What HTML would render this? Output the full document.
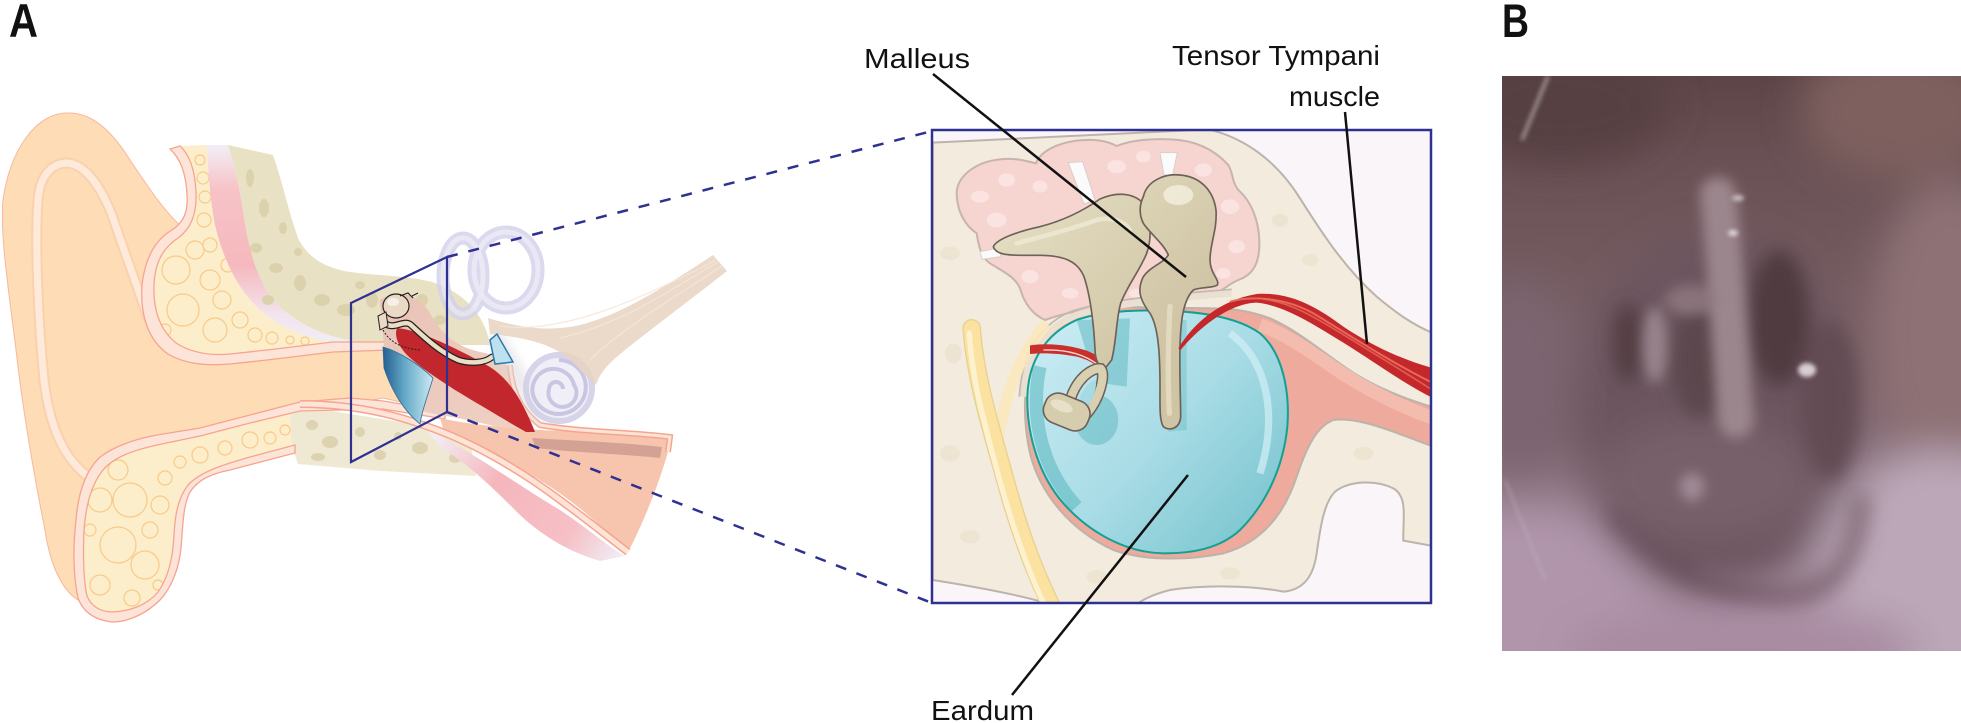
<!DOCTYPE html>
<html><head><meta charset="utf-8">
<style>
html,body{margin:0;padding:0;background:#fff;}
svg{display:block;}
text{font-family:"Liberation Sans",sans-serif;fill:#111;}
</style></head><body>
<svg width="1961" height="723" viewBox="0 0 1961 723" xmlns="http://www.w3.org/2000/svg">
<defs>
  <linearGradient id="skinG" gradientUnits="userSpaceOnUse" x1="0" y1="145" x2="0" y2="345">
    <stop offset="0" stop-color="#f2eef6"/><stop offset="0.22" stop-color="#f6c3c7"/>
    <stop offset="0.6" stop-color="#f5b9bd"/><stop offset="0.85" stop-color="#f3e4ee"/><stop offset="1" stop-color="#f0eef6"/>
  </linearGradient>
  <linearGradient id="fadeG" gradientUnits="userSpaceOnUse" x1="430" y1="440" x2="620" y2="560">
    <stop offset="0" stop-color="#f3eef5"/><stop offset="0.35" stop-color="#f5b6bc"/>
    <stop offset="0.75" stop-color="#f6c0c6"/><stop offset="1" stop-color="#f1edf6"/>
  </linearGradient>
  <linearGradient id="blueG" gradientUnits="userSpaceOnUse" x1="383" y1="0" x2="433" y2="0">
    <stop offset="0" stop-color="#235f90"/><stop offset="0.45" stop-color="#67abc9"/><stop offset="1" stop-color="#cbeaf2"/>
  </linearGradient>
  <linearGradient id="meG" gradientUnits="userSpaceOnUse" x1="380" y1="300" x2="530" y2="430">
    <stop offset="0" stop-color="#e9c2b6"/><stop offset="1" stop-color="#f0d2c4"/>
  </linearGradient>
  <linearGradient id="drumG" gradientUnits="userSpaceOnUse" x1="350" y1="620" x2="1050" y2="1250">
    <stop offset="0" stop-color="#c8ebf3"/><stop offset="0.5" stop-color="#a9dce6"/><stop offset="1" stop-color="#76c3cd"/>
  </linearGradient>
  <linearGradient id="boneG" gradientUnits="userSpaceOnUse" x1="200" y1="250" x2="700" y2="700">
    <stop offset="0" stop-color="#e6dfc4"/><stop offset="1" stop-color="#cfc4a4"/>
  </linearGradient>
  <linearGradient id="photoBase" gradientUnits="userSpaceOnUse" x1="0" y1="76" x2="0" y2="651">
    <stop offset="0" stop-color="#5d4547"/><stop offset="0.15" stop-color="#6a5155"/>
    <stop offset="0.5" stop-color="#7a6268"/><stop offset="0.8" stop-color="#9a8191"/><stop offset="1" stop-color="#b59db1"/>
  </linearGradient>
  <clipPath id="boxClip"><rect x="932" y="130" width="499" height="473"/></clipPath>
  <clipPath id="photoClip"><rect x="1502" y="76" width="459" height="575"/></clipPath>
  <filter id="pb20" filterUnits="userSpaceOnUse" x="1300" y="-100" width="800" height="900"><feGaussianBlur stdDeviation="20"/></filter>
  <filter id="pb11" filterUnits="userSpaceOnUse" x="1300" y="-100" width="800" height="900"><feGaussianBlur stdDeviation="11"/></filter>
  <filter id="pb9" filterUnits="userSpaceOnUse" x="1300" y="-100" width="800" height="900"><feGaussianBlur stdDeviation="9"/></filter>
  <filter id="pb6" filterUnits="userSpaceOnUse" x="1300" y="-100" width="800" height="900"><feGaussianBlur stdDeviation="6"/></filter>
  <filter id="pb2" filterUnits="userSpaceOnUse" x="1300" y="-100" width="800" height="900"><feGaussianBlur stdDeviation="2"/></filter>
  <filter id="eb4" filterUnits="userSpaceOnUse" x="300" y="150" width="400" height="400"><feGaussianBlur stdDeviation="5"/></filter>
</defs>

<!-- ================= EAR (A) ================= -->
<path d="M 67,113 C 90,112 110,128 130,160 C 150,190 165,212 182,227 L 150,300 L 383,338 L 445,345 L 445,412 L 383,398 L 110,450 L 78,600 C 62,590 50,565 45,530 C 35,480 24,420 16,350 C 8,285 0,235 3,200 C 10,150 36,113 67,113 Z" fill="#fddcb6" stroke="#f7b89c" stroke-width="1"/>
<path d="M 90,478 C 65,460 50,430 44,380 C 38,320 35,240 38,200 C 40,175 52,163 68,163 C 85,165 100,185 112,215 C 122,245 135,280 148,318" fill="none" stroke="#f8c9aa" stroke-width="11" stroke-linecap="round" opacity="0.6"/>
<path d="M 90,478 C 65,460 50,430 44,380 C 38,320 35,240 38,200 C 40,175 52,163 68,163 C 85,165 100,185 112,215 C 122,245 135,280 148,318" fill="none" stroke="#feeadb" stroke-width="7" stroke-linecap="round"/>

<path d="M 180,146 C 190,155 195,170 196,192 C 197,212 192,228 178,238 C 163,248 155,262 154,285 C 153,310 160,330 176,343 C 190,352 208,356 230,354 L 267,350 L 330,342 C 300,337 270,322 255,305 C 235,285 222,255 215,225 C 210,200 208,170 207,145 Z" fill="#fdeecb"/>
<g fill="none" stroke="#f9c987" stroke-width="1.2">
  <circle cx="200" cy="160" r="5"/><circle cx="203" cy="178" r="6"/><circle cx="205" cy="197" r="6"/>
  <circle cx="204" cy="220" r="7"/><circle cx="176" cy="270" r="14"/><circle cx="195" cy="250" r="9"/>
  <circle cx="210" cy="245" r="7"/><circle cx="183" cy="310" r="16"/><circle cx="210" cy="280" r="10"/>
  <circle cx="222" cy="300" r="9"/><circle cx="215" cy="330" r="12"/><circle cx="240" cy="320" r="8"/>
  <circle cx="255" cy="335" r="7"/><circle cx="272" cy="338" r="6"/><circle cx="165" cy="330" r="6"/>
  <circle cx="228" cy="265" r="7"/><circle cx="290" cy="340" r="4"/><circle cx="305" cy="341" r="4"/>
</g>
<path d="M 207,145 C 208,170 210,200 215,225 C 222,255 235,285 255,305 C 270,322 300,337 330,342 L 360,342 C 320,336 290,320 272,298 C 255,275 248,245 243,210 C 238,180 233,160 228,145 Z" fill="url(#skinG)"/>
<path d="M 228,145 L 273,155 C 282,180 288,210 298,238 C 308,258 325,268 350,272 C 380,276 420,276 440,285 C 465,295 485,315 490,345 L 445,345 L 390,342 L 360,342 C 320,336 290,320 272,298 C 255,275 248,245 243,210 C 238,180 233,160 228,145 Z" fill="#e9e1c3"/>
<g fill="#dbd2ad">
  <ellipse cx="250" cy="178" rx="4" ry="9"/><ellipse cx="264" cy="208" rx="5" ry="9"/><ellipse cx="256" cy="248" rx="6" ry="5"/>
  <ellipse cx="276" cy="268" rx="7" ry="5"/><ellipse cx="300" cy="283" rx="6" ry="8"/><ellipse cx="322" cy="300" rx="8" ry="6"/>
  <ellipse cx="346" cy="310" rx="9" ry="6"/><ellipse cx="298" cy="252" rx="4" ry="4"/><ellipse cx="372" cy="300" rx="6" ry="8"/>
  <ellipse cx="396" cy="312" rx="7" ry="5"/><ellipse cx="422" cy="300" rx="6" ry="6"/><ellipse cx="283" cy="228" rx="4" ry="6"/>
  <ellipse cx="268" cy="300" rx="6" ry="5"/><ellipse cx="360" cy="285" rx="5" ry="4"/><ellipse cx="440" cy="320" rx="6" ry="5"/>
</g>
<path d="M 170,149 C 180,158 186,172 187,195 C 188,212 184,222 172,230 C 155,240 145,258 142,285 C 140,315 148,340 168,354 C 185,364 205,366 230,364 L 267,360 L 333,352 L 390,350 L 390,342 L 333,342 L 267,350 L 230,354 C 208,356 190,352 176,343 C 160,330 153,310 154,285 C 155,262 163,248 178,238 C 192,228 197,212 196,192 C 195,170 190,155 180,146 Z" fill="#fde4d8" stroke="#f6a48f" stroke-width="1.3"/>

<path d="M 300,411 L 250,423 L 200,436 L 157,445 C 135,450 115,456 103,470 C 91,485 86,505 84,530 C 83,555 83,578 87,596 C 91,606 100,612 113,612 C 132,611 148,604 158,592 C 168,578 173,558 174,535 C 175,515 178,498 188,485 C 200,472 222,465 250,457 L 300,444 Z" fill="#fdeecb"/>
<g fill="none" stroke="#f9c987" stroke-width="1.2">
  <circle cx="118" cy="470" r="10"/><circle cx="100" cy="500" r="12"/><circle cx="130" cy="500" r="17"/>
  <circle cx="118" cy="545" r="18"/><circle cx="150" cy="530" r="8"/><circle cx="160" cy="505" r="9"/>
  <circle cx="145" cy="565" r="14"/><circle cx="100" cy="585" r="10"/><circle cx="132" cy="598" r="8"/>
  <circle cx="165" cy="478" r="7"/><circle cx="200" cy="455" r="8"/><circle cx="225" cy="448" r="7"/>
  <circle cx="250" cy="440" r="8"/><circle cx="180" cy="462" r="6"/><circle cx="270" cy="438" r="6"/>
  <circle cx="285" cy="430" r="5"/><circle cx="90" cy="530" r="6"/><circle cx="158" cy="585" r="5"/>
</g>
<path d="M 293,405 L 420,425 L 470,440 L 476,476 L 380,471 L 298,464 C 289,440 289,420 293,405 Z" fill="#efe9d3"/>
<g fill="#ddd3b1">
  <ellipse cx="312" cy="425" rx="6" ry="5"/><ellipse cx="330" cy="442" rx="8" ry="6"/><ellipse cx="360" cy="432" rx="5" ry="5"/>
  <ellipse cx="318" cy="457" rx="7" ry="4"/><ellipse cx="380" cy="455" rx="6" ry="5"/><ellipse cx="420" cy="448" rx="8" ry="6"/>
  <ellipse cx="455" cy="458" rx="6" ry="5"/><ellipse cx="398" cy="436" rx="4" ry="4"/>
</g>
<path d="M 445,411 L 383,401 L 350,398 L 300,402 L 250,415 L 200,428 L 157,435 C 135,439 112,447 99,458 C 85,472 78,495 76,520 C 73,545 73,575 78,598 C 83,612 95,620 112,622 C 130,622 148,612 160,600 C 172,587 179,568 181,548 C 183,525 183,505 190,492 C 198,480 210,474 230,470 L 295,453 L 295,445 L 250,457 C 222,465 200,472 188,485 C 178,498 175,515 174,535 C 173,558 168,578 158,592 C 148,604 132,611 113,612 C 100,612 91,606 87,596 C 83,578 83,555 84,530 C 86,505 91,485 103,470 C 115,456 135,450 157,445 L 200,436 L 250,423 L 300,411 L 383,409 L 445,419 Z" fill="#fde4d8" stroke="#f6a48f" stroke-width="1.3"/>

<!-- middle ear -->
<path d="M 380,300 C 395,290 415,292 428,310 C 440,330 450,345 480,352 C 500,356 508,362 510,375 C 512,395 520,412 535,430 L 520,432 C 490,425 460,418 440,415 C 420,412 405,405 398,390 L 385,360 Z" fill="url(#meG)"/>
<path d="M 427,430 C 470,450 510,480 560,510 C 590,530 610,548 625,556 L 600,561 C 570,552 545,538 520,515 C 495,490 470,465 440,447 Z" fill="url(#fadeG)"/>
<path d="M 440,418 C 470,425 510,428 540,430 C 580,432 630,432 670,436 L 668,452 C 660,480 645,520 628,552 C 610,535 590,515 565,497 C 530,472 490,450 445,435 Z" fill="#f7c4ad"/>
<path d="M 532,438 C 580,441 630,443 662,447 L 660,458 C 620,454 570,452 536,448 Z" fill="#c99a8f" opacity="0.8"/>
<path d="M 300,404 C 340,404 380,410 420,424 C 470,440 520,470 560,500 C 590,522 612,540 628,552" fill="none" stroke="#f6a48f" stroke-width="8"/>
<path d="M 300,404 C 340,404 380,410 420,424 C 470,440 520,470 560,500 C 590,522 612,540 628,552" fill="none" stroke="#fde4d6" stroke-width="5"/>
<path d="M 510,365 C 512,390 520,410 540,425 C 580,432 630,432 670,437 L 668,452" fill="none" stroke="#f6a48f" stroke-width="6"/>
<path d="M 510,365 C 512,390 520,410 540,425 C 580,432 630,432 670,437 L 668,452" fill="none" stroke="#fde4d6" stroke-width="3"/>

<path d="M 495,335 C 510,360 525,390 540,420" fill="none" stroke="#dcdcdf" stroke-width="16" opacity="0.6" filter="url(#eb4)"/>
<g fill="none" opacity="0.85">
  <ellipse cx="463" cy="276" rx="20" ry="38" stroke="#d5d3ea" stroke-width="13"/>
  <ellipse cx="506" cy="270" rx="32" ry="38" stroke="#d5d3ea" stroke-width="13"/>
  <ellipse cx="463" cy="276" rx="20" ry="38" stroke="#e6e5f3" stroke-width="5"/>
  <ellipse cx="506" cy="270" rx="32" ry="38" stroke="#e6e5f3" stroke-width="5"/>
</g>
<circle cx="559" cy="388" r="33" fill="#efeef7" stroke="#d3d0e8" stroke-width="6" opacity="0.9"/>
<path d="M 559,360 A 27,27 0 1 1 533,395 A 21,21 0 1 1 574,385 A 14,14 0 1 1 549,389 A 7,7 0 1 1 563,389" fill="none" stroke="#c9c6e2" stroke-width="4"/>
<path d="M 488,318 C 520,328 550,332 580,325 C 620,315 660,290 713,255 L 727,271 C 690,300 650,330 625,350 C 610,362 600,372 596,385 L 580,370 C 560,345 530,338 490,334 Z" fill="#e8d2c0" opacity="0.85"/>
<g stroke="#f4e7dc" stroke-width="1.2" fill="none" opacity="0.9">
  <path d="M 500,326 C 560,335 640,300 716,260"/><path d="M 590,360 C 620,330 670,300 722,266"/><path d="M 560,338 C 620,325 670,290 718,262"/>
</g>

<path d="M 397,328 C 420,330 460,350 490,367 C 510,380 522,400 535,432 L 526,432 C 505,420 480,405 455,390 C 435,377 420,367 408,356 C 398,346 394,336 397,328 Z" fill="#c1272d"/>
<path d="M 383,347 C 400,352 420,365 433,378 C 428,395 422,410 420,424 C 405,412 392,392 384,368 Z" fill="url(#blueG)" stroke="#2c6c98" stroke-width="0.8"/>
<path d="M 383,330 C 390,342 400,348 420,350" fill="none" stroke="#222" stroke-width="1" stroke-dasharray="2 1.5"/>
<ellipse cx="396" cy="306" rx="13" ry="12" fill="#ead9c5" stroke="#222" stroke-width="1.2"/>
<ellipse cx="393" cy="302" rx="6" ry="4" fill="#f7f0e6"/>
<path d="M 386,324 C 395,330 405,318 412,326 C 425,338 440,352 458,360 C 470,364 485,363 492,357" fill="none" stroke="#222" stroke-width="7" stroke-linecap="round"/>
<path d="M 386,324 C 395,330 405,318 412,326 C 425,338 440,352 458,360 C 470,364 485,363 492,357" fill="none" stroke="#eadfc4" stroke-width="4.5" stroke-linecap="round"/>
<path d="M 378,316 L 386,312 L 388,326 L 380,330 Z" fill="#ead9c5" stroke="#222" stroke-width="1"/>
<path d="M 400,296 L 408,293 L 413,298 M 412,296 L 418,293" fill="none" stroke="#222" stroke-width="1.2"/>
<path d="M 490,340 L 497,334 L 513,362 L 495,364 Z" fill="#bfe0ef" stroke="#2a7ab0" stroke-width="1.5"/>

<polygon points="351,303 447,257 447,412 351,462" fill="none" stroke="#2e3192" stroke-width="2.2"/>
<line x1="447" y1="257" x2="932" y2="131" stroke="#2e3192" stroke-width="2.5" stroke-dasharray="11 11"/>
<line x1="447" y1="412" x2="932" y2="603" stroke="#2e3192" stroke-width="2.5" stroke-dasharray="11 11"/>

<!-- ================= ZOOM BOX ================= -->
<rect x="932" y="130" width="499" height="473" fill="#faf5f9"/>
<g clip-path="url(#boxClip)">
<g transform="translate(930,120) scale(0.333333)">
  <path d="M 8,68 L 835,28 C 950,55 1045,130 1110,235 C 1170,330 1240,440 1340,530 C 1400,580 1450,615 1510,640 L 1510,1278 L 1420,1262 C 1418,1200 1435,1130 1390,1105 C 1340,1080 1260,1080 1215,1115 C 1180,1150 1170,1230 1160,1300 C 1150,1370 1120,1410 1060,1415 C 960,1395 820,1395 720,1410 C 680,1420 640,1435 610,1460 L 380,1460 C 330,1440 200,1410 8,1380 Z" fill="#f3ebdd" stroke="#bcb3ab" stroke-width="6"/>
  <g fill="#ece2d0" opacity="0.8">
    <ellipse cx="60" cy="400" rx="30" ry="20"/><ellipse cx="70" cy="700" rx="25" ry="30"/><ellipse cx="60" cy="1000" rx="30" ry="25"/>
    <ellipse cx="120" cy="1250" rx="30" ry="20"/><ellipse cx="500" cy="1370" rx="30" ry="20"/><ellipse cx="900" cy="1360" rx="30" ry="18"/>
    <ellipse cx="1300" cy="1000" rx="30" ry="20"/><ellipse cx="1050" cy="300" rx="25" ry="20"/><ellipse cx="1140" cy="420" rx="25" ry="18"/>
  </g>
  <path d="M 1510,862 C 1420,835 1330,800 1250,745 C 1170,690 1100,630 1020,595 C 960,572 900,565 850,565 L 520,560 C 420,575 340,630 305,720 C 280,800 278,900 300,1000 C 330,1120 420,1230 550,1290 C 650,1325 780,1320 880,1300 C 990,1270 1060,1190 1100,1070 C 1130,980 1160,920 1210,900 C 1280,890 1380,930 1510,980 Z" fill="#eeaa9d" stroke="#bcb3ab" stroke-width="6"/>
  <path d="M 1510,895 C 1400,855 1300,805 1200,735 C 1120,680 1060,640 990,615" fill="none" stroke="#f4c0b3" stroke-width="40" opacity="0.85"/>
  <path d="M 80,215 C 85,165 140,125 210,118 C 260,112 295,125 318,130 C 330,95 380,70 440,62 C 490,56 530,62 560,78 C 600,62 660,55 720,58 C 790,60 850,85 895,135 C 910,160 905,185 925,210 C 965,245 985,300 988,360 C 990,420 975,460 930,478 C 895,490 880,515 840,528 C 760,540 650,545 560,555 C 470,565 400,580 345,600 C 300,580 280,540 270,505 C 255,470 220,455 180,430 C 150,410 145,370 140,340 C 110,320 80,280 80,215 Z" fill="#f6d4d0" stroke="#c8b3ae" stroke-width="6"/>
  <g fill="#fae3e0">
    <ellipse cx="150" cy="230" rx="28" ry="18"/><ellipse cx="230" cy="180" rx="25" ry="20"/><ellipse cx="200" cy="300" rx="30" ry="22"/>
    <ellipse cx="330" cy="200" rx="22" ry="18"/><ellipse cx="560" cy="140" rx="28" ry="20"/><ellipse cx="640" cy="110" rx="22" ry="18"/>
    <ellipse cx="820" cy="150" rx="26" ry="20"/><ellipse cx="900" cy="260" rx="28" ry="22"/><ellipse cx="920" cy="380" rx="25" ry="20"/>
    <ellipse cx="880" cy="460" rx="22" ry="16"/><ellipse cx="300" cy="470" rx="26" ry="20"/><ellipse cx="420" cy="520" rx="25" ry="16"/>
    <ellipse cx="240" cy="390" rx="22" ry="16"/><ellipse cx="620" cy="520" rx="24" ry="14"/>
  </g>
  <path d="M 280,830 C 288,700 350,620 440,585 C 560,548 750,532 905,520" fill="none" stroke="#e9e0d2" stroke-width="20"/>
  <path d="M 268,830 C 276,690 340,605 430,572 C 550,535 750,520 905,508" fill="none" stroke="#c2b9b1" stroke-width="5"/>
  <path d="M 205,960 C 225,820 270,700 350,610" fill="none" stroke="#fbe8bd" stroke-width="34" opacity="0.9"/>
  <path d="M 125,625 C 135,760 175,900 215,1040 C 255,1190 300,1330 370,1470" fill="none" stroke="#e8d08f" stroke-width="56" stroke-linecap="round"/>
  <path d="M 125,625 C 135,760 175,900 215,1040 C 255,1190 300,1330 370,1470" fill="none" stroke="#fbe2a0" stroke-width="48" stroke-linecap="round"/>
  <path d="M 118,640 C 125,770 160,900 198,1040 C 235,1180 280,1320 345,1460" fill="none" stroke="#fdf1d0" stroke-width="16" stroke-linecap="round"/>
  <path d="M 292,830 C 295,720 350,640 440,600 C 520,572 620,570 700,572 C 810,575 920,590 990,640 C 1060,700 1080,820 1072,920 C 1060,1040 1010,1150 930,1230 C 870,1285 790,1300 700,1300 C 590,1298 480,1240 400,1150 C 330,1070 290,950 292,830 Z" fill="url(#drumG)" stroke="#12a095" stroke-width="6"/>
  <path d="M 330,740 C 300,880 330,1040 440,1160" fill="none" stroke="#57b6be" stroke-width="40" opacity="0.55"/>
  <path d="M 900,640 C 1010,720 1045,880 990,1060" fill="none" stroke="#cdeef4" stroke-width="22" opacity="0.75"/>
  <path d="M 440,600 L 600,595 L 590,800 L 520,790 L 470,700 Z" fill="#5cb5bd" opacity="0.5"/>
  <ellipse cx="500" cy="900" rx="65" ry="75" fill="#5cb5bd" opacity="0.5"/>
  <path d="M 700,600 L 770,600 L 770,930 L 715,935 Z" fill="#5cb5bd" opacity="0.35"/>
  <path d="M 415,128 L 458,125 L 495,240 L 462,252 Z" fill="#fbfbfb" stroke="#d8d0cc" stroke-width="3"/>
  <path d="M 690,98 L 742,98 L 728,165 L 702,165 Z" fill="#fbfbfb" stroke="#d8d0cc" stroke-width="3"/>
  <path d="M 150,395 L 210,383 L 212,410 L 156,418 Z" fill="#fbfbfb" stroke="#d8d0cc" stroke-width="3"/>
  <path d="M 300,676 C 360,668 420,676 470,692 C 495,702 510,712 518,722 L 508,745 C 495,730 470,718 440,710 C 390,700 340,698 300,702 Z" fill="#c9302c"/>
  <path d="M 340,690 C 400,688 460,700 505,735" fill="none" stroke="#f7d8d4" stroke-width="4"/>
  <path d="M 190,380 C 200,358 260,335 330,320 C 400,302 460,272 510,237 C 560,215 610,218 640,250 C 665,290 665,360 650,400 C 630,450 590,500 572,550 C 558,600 560,660 545,720 L 525,745 C 505,742 496,718 495,690 C 492,620 482,530 462,470 C 442,422 400,407 330,406 C 260,405 200,412 190,380 Z" fill="url(#boneG)" stroke="#6d6258" stroke-width="5"/>
  <path d="M 260,370 C 330,350 420,330 500,300 C 540,290 580,300 600,330" fill="none" stroke="#f1ecd9" stroke-width="14" opacity="0.7" stroke-linecap="round"/>
  <path d="M 640,230 C 650,185 700,160 750,165 C 810,170 850,210 858,270 C 862,330 840,370 840,420 C 840,460 870,480 862,495 C 850,505 810,500 790,510 C 760,540 752,600 750,680 C 748,760 752,840 752,890 C 750,925 720,935 700,920 C 688,900 690,860 690,800 C 690,700 685,620 660,580 C 630,540 620,510 640,470 C 660,440 700,430 715,405 C 700,370 660,340 640,310 C 625,280 630,250 640,230 Z" fill="url(#boneG)" stroke="#6d6258" stroke-width="5"/>
  <ellipse cx="745" cy="225" rx="45" ry="30" fill="#f2eddc" opacity="0.85"/>
  <path d="M 720,560 C 715,650 712,760 718,880" fill="none" stroke="#e9e2cb" stroke-width="16" opacity="0.7" stroke-linecap="round"/>
  <path d="M 420,842 C 440,772 490,742 512,746 C 527,762 512,832 470,882" fill="none" stroke="#6d6258" stroke-width="34" stroke-linecap="round"/>
  <path d="M 420,842 C 440,772 490,742 512,746 C 527,762 512,832 470,882" fill="none" stroke="#d9cfb1" stroke-width="25" stroke-linecap="round"/>
  <path d="M 448,835 C 462,800 485,780 498,780 C 500,810 488,840 470,860 Z" fill="#a6dbe5"/>
  <rect x="340" y="830" width="140" height="92" rx="40" ry="40" transform="rotate(22 410 876)" fill="#d6ccae" stroke="#6d6258" stroke-width="5"/>
  <ellipse cx="395" cy="858" rx="35" ry="16" transform="rotate(22 395 858)" fill="#ece5cf" opacity="0.8"/>
  <path d="M 745,685 C 790,610 870,540 980,522 C 1080,515 1160,560 1240,620 C 1330,680 1420,720 1510,745 L 1510,835 C 1420,790 1340,730 1240,668 C 1150,612 1060,555 980,548 C 900,550 810,620 752,690 Z" fill="#c4282b"/>
  <path d="M 900,545 C 960,528 1060,530 1150,580 C 1250,640 1370,720 1510,790" fill="none" stroke="#e8685a" stroke-width="6"/>
  <path d="M 1000,538 C 1080,545 1160,595 1250,650 C 1350,712 1430,760 1510,812" fill="none" stroke="#e8685a" stroke-width="5" opacity="0.8"/>
</g>
</g>
<rect x="932" y="130" width="499" height="473" fill="none" stroke="#2e3192" stroke-width="2.5"/>

<g stroke="#111" stroke-width="2.5">
  <line x1="933" y1="74" x2="1186" y2="277"/>
  <line x1="1345" y1="112" x2="1367" y2="344"/>
  <line x1="1188" y1="475" x2="1012" y2="695"/>
</g>

<text x="9" y="37" font-size="47" font-weight="bold" textLength="29" lengthAdjust="spacingAndGlyphs">A</text>
<text x="1502" y="37" font-size="47" font-weight="bold" textLength="27" lengthAdjust="spacingAndGlyphs">B</text>
<text x="864" y="68" font-size="28" textLength="106" lengthAdjust="spacingAndGlyphs">Malleus</text>
<text x="1172" y="65" font-size="28" textLength="208" lengthAdjust="spacingAndGlyphs">Tensor Tympani</text>
<text x="1289" y="106" font-size="28" textLength="91" lengthAdjust="spacingAndGlyphs">muscle</text>
<text x="931" y="720" font-size="28" textLength="103" lengthAdjust="spacingAndGlyphs">Eardum</text>

<!-- ================= PHOTO (B) ================= -->
<g clip-path="url(#photoClip)">
  <rect x="1502" y="76" width="459" height="575" fill="url(#photoBase)"/>
  <g filter="url(#pb20)">
    <ellipse cx="1560" cy="105" rx="110" ry="60" fill="#573f42"/>
    <ellipse cx="1900" cy="110" rx="100" ry="70" fill="#7e605e"/>
    <ellipse cx="1950" cy="330" rx="80" ry="150" fill="#8d7175"/>
    <ellipse cx="1940" cy="570" rx="120" ry="120" fill="#bba7b8"/>
    <ellipse cx="1530" cy="610" rx="130" ry="100" fill="#b196ab"/>
    <ellipse cx="1520" cy="380" rx="60" ry="100" fill="#7b6570"/>
    <ellipse cx="1740" cy="650" rx="180" ry="45" fill="#a98ba1"/>
    <ellipse cx="1714" cy="415" rx="140" ry="178" fill="#6c545e"/>
    <ellipse cx="1705" cy="480" rx="110" ry="60" fill="#78616b"/>
  </g>
  <g filter="url(#pb11)">
    <path d="M 1610,510 C 1660,570 1720,598 1790,596 C 1835,592 1856,560 1862,495" fill="none" stroke="#5e4450" stroke-width="14" opacity="0.8"/>
    <path d="M 1700,572 C 1745,584 1790,582 1820,570" fill="none" stroke="#8d7583" stroke-width="6" opacity="0.8"/>
  </g>
  <g filter="url(#pb9)">
    <ellipse cx="1628" cy="343" rx="15" ry="40" fill="#523c42"/>
    <ellipse cx="1700" cy="360" rx="28" ry="58" fill="#5c464d"/>
    <ellipse cx="1779" cy="318" rx="30" ry="68" fill="#503a40"/>
    <ellipse cx="1830" cy="400" rx="28" ry="80" fill="#644b52"/>
  </g>
  <g filter="url(#pb6)">
    <ellipse cx="1655" cy="345" rx="12" ry="38" fill="#98828b"/>
    <path d="M 1718,195 C 1725,250 1728,330 1736,420" fill="none" stroke="#9c868d" stroke-width="36" stroke-linecap="round"/>
    <ellipse cx="1690" cy="300" rx="25" ry="15" fill="#8a737a"/>
    <ellipse cx="1692" cy="487" rx="12" ry="14" fill="#a08b96"/>
  </g>
  <g filter="url(#pb2)">
    <ellipse cx="1807" cy="370" rx="9" ry="7" fill="#d8ced5"/>
    <ellipse cx="1733" cy="233" rx="5" ry="3" fill="#e2dbe0"/>
    <ellipse cx="1738" cy="198" rx="6" ry="3" fill="#c9bec3"/>
    <line x1="1548" y1="76" x2="1522" y2="140" stroke="#9a8a8a" stroke-width="4"/>
    <line x1="1505" y1="480" x2="1545" y2="580" stroke="#c4b2c0" stroke-width="2" opacity="0.6"/>
  </g>
</g>
</svg>
</body></html>
